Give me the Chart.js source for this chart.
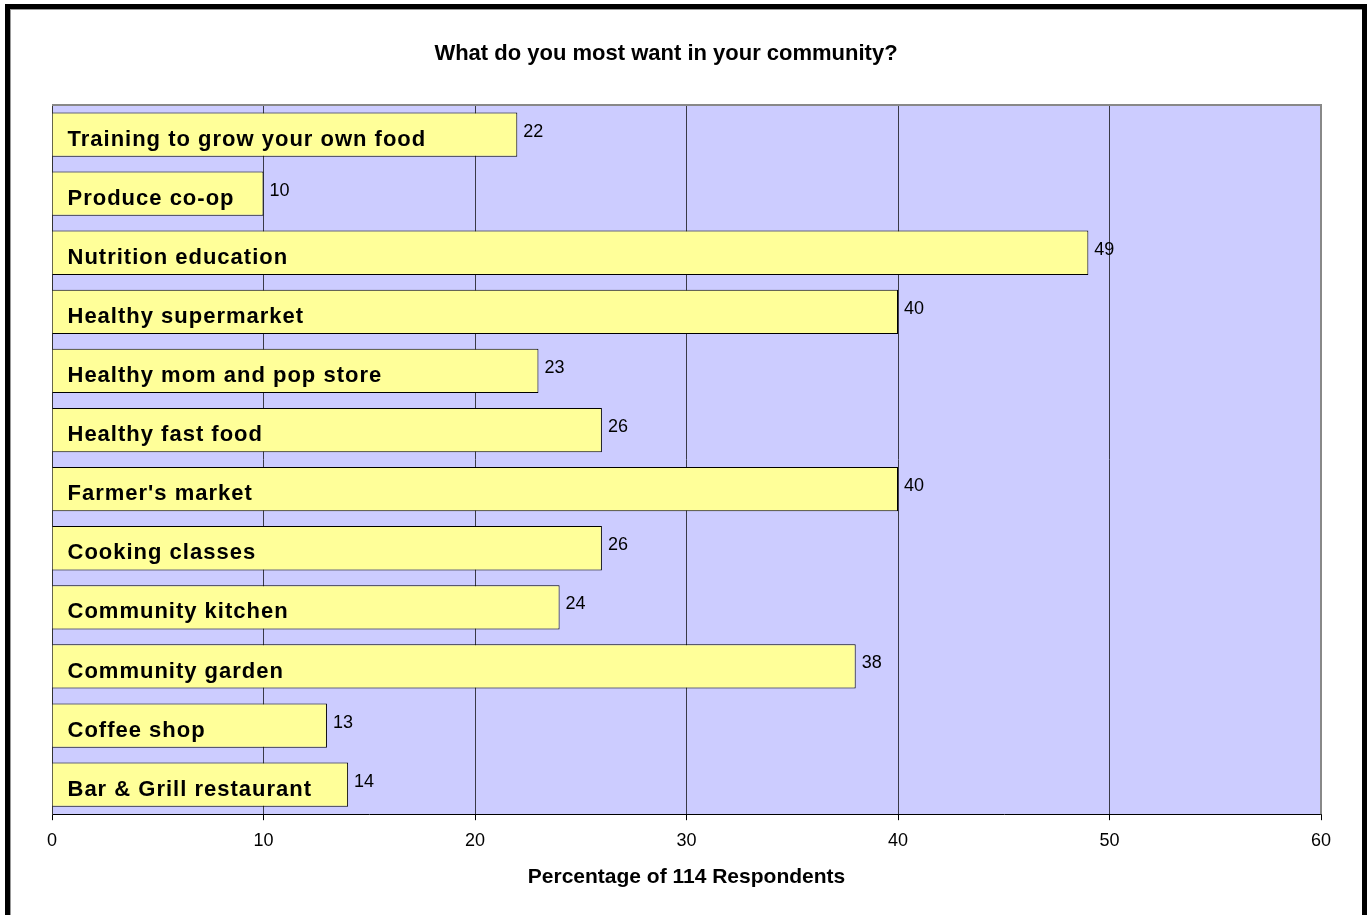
<!DOCTYPE html>
<html>
<head>
<meta charset="utf-8">
<script src="https://cdn.jsdelivr.net/npm/chart.js@4"></script>
<style>
  body { margin: 0; background: #fff; }
  #wrap { width: 1367px; height: 915px; }
</style>
</head>
<body>
<div id="wrap"><canvas id="chart" width="1367" height="915"></canvas></div>
<script>
// data
const categories = [
    'Training to grow your own food',
    'Produce co-op',
    'Nutrition education',
    'Healthy supermarket',
    'Healthy mom and pop store',
    'Healthy fast food',
    "Farmer's market",
    'Cooking classes',
    'Community kitchen',
    'Community garden',
    'Coffee shop',
    'Bar & Grill restaurant'
];
const percents = [22, 10, 49, 40, 23, 26, 40, 26, 24, 38, 13, 14];
const xTicks = [0, 10, 20, 30, 40, 50, 60];
const chartTitle = 'What do you most want in your community?';
const xTitle = 'Percentage of 114 Respondents';

const FONT = "'Liberation Sans', Arial, sans-serif";

// frame, plot background, title
const framePlugin = {
    id: 'frame',
    beforeDraw(chart) {
        const ctx = chart.ctx;
        const a = chart.chartArea;
        ctx.save();
        ctx.fillStyle = '#fff';
        ctx.fillRect(0, 0, chart.width, chart.height);
        // outer black border (bottom is cut off)
        ctx.fillStyle = '#000';
        ctx.fillRect(5, 4, 1362, 5);
        ctx.fillRect(5, 4, 5, 911);
        ctx.fillRect(1362, 4, 5, 911);
        ctx.fillStyle = '#999';
        ctx.fillRect(10, 9, 1352, 1);
        ctx.fillRect(10, 9, 1, 906);
        // plot area
        ctx.fillStyle = '#CCCCFF';
        ctx.fillRect(a.left, a.top, a.right - a.left, a.bottom - a.top);
        // title
        ctx.fillStyle = '#000';
        ctx.font = 'bold 22px ' + FONT;
        ctx.textAlign = 'center';
        ctx.textBaseline = 'middle';
        ctx.fillText(chartTitle, 666, 54);
        ctx.restore();
    },
    afterDraw(chart) {
        const ctx = chart.ctx;
        const a = chart.chartArea;
        ctx.save();
        ctx.strokeStyle = '#888';
        ctx.lineWidth = 2;
        ctx.beginPath();
        ctx.moveTo(a.left, a.top);
        ctx.lineTo(a.right, a.top);
        ctx.lineTo(a.right, a.bottom);
        ctx.stroke();
        ctx.restore();
    }
};

// category names inside the bars, values after them
const barLabels = {
    id: 'barLabels',
    afterDatasetsDraw(chart) {
        const ctx = chart.ctx;
        const meta = chart.getDatasetMeta(0);
        ctx.save();
        ctx.textBaseline = 'middle';
        ctx.textAlign = 'left';
        ctx.fillStyle = '#000';
        meta.data.forEach((bar, i) => {
            ctx.font = 'bold 22px ' + FONT;
            ctx.letterSpacing = '1px';
            ctx.fillText(categories[i], bar.base + 15, bar.y + 5);
            ctx.font = '18px ' + FONT;
            ctx.letterSpacing = '0px';
            ctx.fillText(String(percents[i]), bar.x + 6, bar.y - 3);
        });
        ctx.restore();
    }
};

const ctx = document.getElementById('chart').getContext('2d');
new Chart(ctx, {
    type: 'bar',
    data: {
        labels: categories,
        datasets: [{
            data: percents,
            backgroundColor: '#FFFF99',
            borderColor: '#000',
            borderWidth: 1,
            barPercentage: 0.75,
            categoryPercentage: 1
        }]
    },
    options: {
        indexAxis: 'y',
        responsive: false,
        animation: false,
        layout: { padding: { left: 52, right: 46, top: 105, bottom: 25 } },
        plugins: {
            legend: { display: false },
            tooltip: { enabled: false }
        },
        scales: {
            x: {
                type: 'linear',
                min: xTicks[0],
                max: xTicks[xTicks.length - 1],
                afterBuildTicks(scale) {
                    scale.ticks = xTicks.map(v => ({ value: v }));
                },
                ticks: {
                    color: '#000',
                    padding: 10,
                    maxRotation: 0,
                    font: { family: FONT, size: 18 }
                },
                grid: {
                    color: c => (c.tick && c.tick.value === 60) ? 'rgba(0,0,0,0)' : '#3a3a48',
                    lineWidth: 1,
                    tickLength: 6,
                    tickColor: '#000'
                },
                border: { display: true, color: '#000', width: 1 },
                title: {
                    display: true,
                    text: xTitle,
                    color: '#000',
                    padding: { top: 3, bottom: 0 },
                    font: { family: FONT, size: 21, weight: 'bold' }
                }
            },
            y: {
                ticks: { display: false },
                grid: { display: false },
                border: { display: true, color: '#333', width: 1 },
                afterFit(scale) { scale.width = 0; }
            }
        }
    },
    plugins: [framePlugin, barLabels]
});
</script>
</body>
</html>
